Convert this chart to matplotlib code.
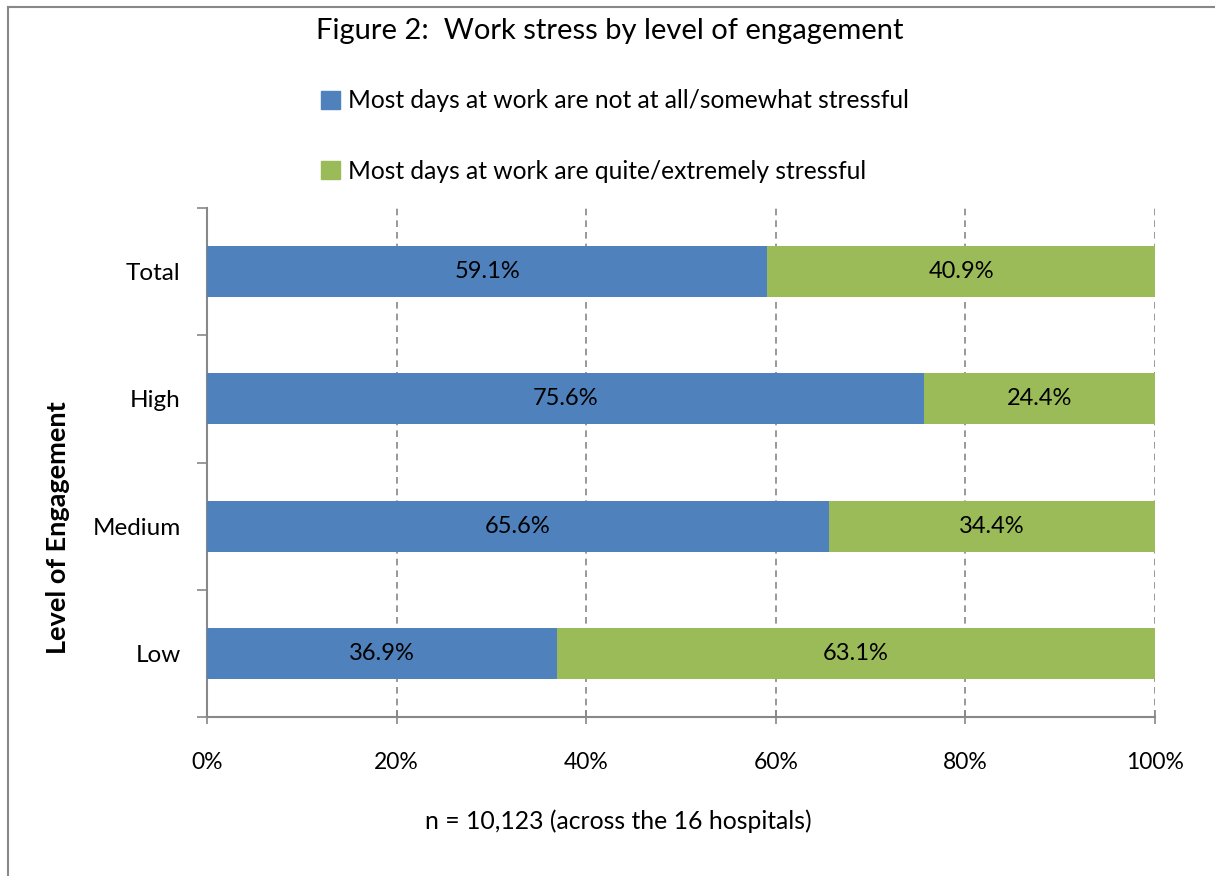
import numpy as np
import matplotlib.pyplot as plt
from matplotlib.lines import Line2D
from matplotlib.patches import Patch

# data
kategori = ['Low', 'Medium', 'High', 'Total']
tidak_stres = [36.9, 65.6, 75.6, 59.1]
stres = [63.1, 34.4, 24.4, 40.9]
label_seri = ['Most days at work are not at all/somewhat stressful',
              'Most days at work are quite/extremely stressful']
warna = ['#4F81BD', '#9BBB59']

plt.rcParams['font.family'] = ['Lato', 'DejaVu Sans']

fig = plt.figure(figsize=(12.15, 8.76), dpi=100)
W, H = 1215, 876
ax = fig.add_axes([207 / W, 1 - 717 / H, (1155 - 207) / W, (717 - 208) / H])

y = np.arange(len(kategori))
tinggi = 0.4
ax.barh(y, tidak_stres, height=tinggi, color=warna[0], zorder=3)
ax.barh(y, stres, left=tidak_stres, height=tinggi, color=warna[1], zorder=3)

# label nilai di tengah bar
for i in range(len(kategori)):
    ax.text(tidak_stres[i] / 2, y[i], f'{tidak_stres[i]:.1f}%', ha='center', va='center', fontsize=17)
    ax.text(tidak_stres[i] + stres[i] / 2, y[i], f'{stres[i]:.1f}%', ha='center', va='center', fontsize=17)

ax.set_xlim(0, 100)
ax.set_ylim(-0.5, len(kategori) - 0.5)
ax.set_xticks(np.arange(0, 101, 20))
ax.set_xticklabels([f'{v}%' for v in range(0, 101, 20)], fontsize=16.5)
ax.tick_params(axis='x', direction='inout', length=10, width=1.2, color='#888888', pad=20)

# tick y di batas kategori, label di tengah
ax.set_yticks(np.arange(-0.5, len(kategori), 1))
ax.set_yticklabels([])
ax.set_yticks(y, minor=True)
ax.set_yticklabels(kategori, minor=True, fontsize=17.5)
ax.tick_params(axis='y', which='major', direction='out', length=7, width=1.2, color='#888888')
ax.tick_params(axis='y', which='minor', length=0, pad=19)

ax.grid(axis='x', linestyle=(0, (4, 3)), color='#888888', linewidth=1.2, zorder=0)
for s in ['top', 'right']:
    ax.spines[s].set_visible(False)
for s in ['left', 'bottom']:
    ax.spines[s].set_color('#888888')
    ax.spines[s].set_linewidth(1.5)

ax.set_ylabel('Level of Engagement', fontsize=19.5, fontweight='bold')
ax.yaxis.set_label_coords((70 - 207) / 948, (717 - 528) / 509)
ax.set_xlabel('n = 10,123 (across the 16 hospitals)', fontsize=17.8)
ax.xaxis.set_label_coords((618 - 207) / 948, -(809 - 717) / 509)

fig.text(610 / W, 1 - 31 / H, 'Figure 2:  Work stress by level of engagement',
         ha='center', va='center', fontsize=21)

handles = [Patch(color=warna[0]), Patch(color=warna[1])]
fig.legend(handles, label_seri, loc='upper left', bbox_to_anchor=(299 / W, 1 - 67 / H),
           frameon=False, fontsize=17.7, handlelength=0.75, handleheight=0.75,
           handletextpad=0.35, labelspacing=1.95)

# bingkai chart
fig.add_artist(Line2D([8 / W, 8 / W], [0, 1 - 7 / H], color='#888888', linewidth=1.5))
fig.add_artist(Line2D([8 / W, 1], [1 - 7 / H, 1 - 7 / H], color='#888888', linewidth=1.5))

fig.savefig('out.png', dpi=100)
